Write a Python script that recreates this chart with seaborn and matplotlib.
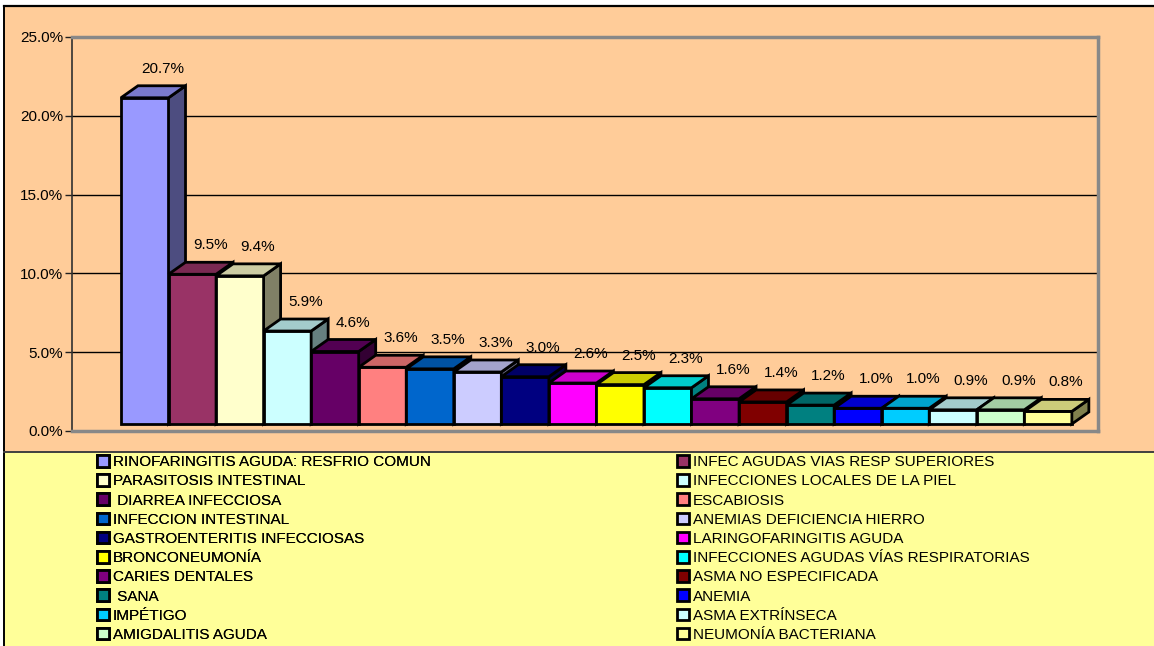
"""Recreation of a 3D-style column chart of diagnoses (percent of consultations)."""

import numpy as np
import pandas as pd

import seaborn as sns
import matplotlib.pyplot as plt
from matplotlib.patches import Polygon, Rectangle
from matplotlib.lines import Line2D
from matplotlib.transforms import ScaledTranslation
from matplotlib.colors import to_rgb

###################################################################################################
###################################################################################################

diagnoses = ['RINOFARINGITIS AGUDA: RESFRIO COMUN', 'INFEC AGUDAS VIAS RESP SUPERIORES',
             'PARASITOSIS INTESTINAL', 'INFECCIONES LOCALES DE LA PIEL',
             ' DIARREA INFECCIOSA', 'ESCABIOSIS',
             'INFECCION INTESTINAL', 'ANEMIAS DEFICIENCIA HIERRO',
             'GASTROENTERITIS INFECCIOSAS', 'LARINGOFARINGITIS AGUDA',
             'BRONCONEUMONÍA', 'INFECCIONES AGUDAS VÍAS RESPIRATORIAS',
             'CARIES DENTALES', 'ASMA NO ESPECIFICADA',
             ' SANA', 'ANEMIA',
             'IMPÉTIGO', 'ASMA EXTRÍNSECA',
             'AMIGDALITIS AGUDA', 'NEUMONÍA BACTERIANA']

percent = [20.7, 9.5, 9.4, 5.9, 4.6, 3.6, 3.5, 3.3, 3.0, 2.6,
           2.5, 2.3, 1.6, 1.4, 1.2, 1.0, 1.0, 0.9, 0.9, 0.8]

colors = ['#9999FF', '#993366', '#FFFFCC', '#CCFFFF', '#660066', '#FF8080', '#0066CC', '#CCCCFF',
          '#000080', '#FF00FF', '#FFFF00', '#00FFFF', '#800080', '#800000', '#008080', '#0000FF',
          '#00CCFF', '#CCFFFF', '#CCFFCC', '#FFFF99']

y_ticks = [0, 5, 10, 15, 20, 25]

###################################################################################################
###################################################################################################

plt.rcParams['font.family'] = ['Liberation Sans', 'DejaVu Sans']

W, H = 1154, 646
fig = plt.figure(figsize=[W / 100, H / 100], dpi=100, facecolor='white')

# Backgrounds: peach chart area, yellow legend area (kept behind the axes)
fig.patches.append(Rectangle((4 / W, 194 / H), 1, 446 / H, transform=fig.transFigure,
                             facecolor='#FFCC99', edgecolor='none', zorder=-2))
fig.patches.append(Rectangle((4 / W, 0), 1, 194 / H, transform=fig.transFigure,
                             facecolor='#FFFF99', edgecolor='none', zorder=-2))
fig.lines.append(Line2D([4 / W, 1], [640 / H, 640 / H], transform=fig.transFigure,
                        color='black', lw=1.6, zorder=-1))
fig.lines.append(Line2D([4 / W, 4 / W], [0, 640 / H], transform=fig.transFigure,
                        color='black', lw=1.4, zorder=-1))
fig.lines.append(Line2D([4 / W, 1], [194 / H, 194 / H], transform=fig.transFigure,
                        color='#404040', lw=1.4, zorder=-1))

ax = fig.add_axes([72 / W, (H - 431) / H, (1098 - 72) / W, (431 - 37) / H])
ax.set_facecolor('none')

df = pd.DataFrame({'diagnosis': diagnoses, 'percent': percent})
sns.barplot(data=df, x='diagnosis', y='percent', hue='diagnosis', palette=colors,
            width=1, edgecolor='black', linewidth=2, saturation=1, legend=False, ax=ax)

ax.set_xlim(-1.53, 20.05)
ax.set_ylim(0, 25)
ax.set_xticks([])
ax.set_yticks(y_ticks)
ax.set_yticklabels(['{:.1f}%'.format(t) for t in y_ticks], fontsize=11)
ax.tick_params(axis='y', length=5, width=1, color='#202020', pad=1.5)
ax.set_xlabel('')
ax.set_ylabel('')

# Gridlines on the back wall
ax.yaxis.grid(True, color='black', lw=1)
ax.set_axisbelow(True)

# Frame
ax.spines['left'].set_color('#303030')
ax.spines['left'].set_linewidth(1.2)
for side in ['top', 'right', 'bottom']:
    ax.spines[side].set_color('#888888')
    ax.spines[side].set_linewidth(2.5)

# 3D look: top and side faces, all shifted slightly up from the floor
shift = ax.transData + ScaledTranslation(0, 7 / 100, fig.dpi_scale_trans)
px_x = ax.transData.transform((1, 0))[0] - ax.transData.transform((0, 0))[0]
px_y = ax.transData.transform((0, 1))[1] - ax.transData.transform((0, 0))[1]
ddx, ddy = 17 / px_x, 12 / px_y

bars = [bar for cont in ax.containers for bar in cont]
for ind, bar in enumerate(bars):
    x0, x1 = bar.get_x(), bar.get_x() + bar.get_width()
    h = bar.get_height()
    base = np.array(to_rgb(bar.get_facecolor()))
    zo = 3 + ind * 0.01
    bar.set_transform(shift)
    bar.set_zorder(zo)
    top = Polygon([(x0, h), (x1, h), (x1 + ddx, h + ddy), (x0 + ddx, h + ddy)],
                  closed=True, facecolor=base * 0.8, edgecolor='black', lw=2,
                  transform=shift, zorder=zo + 0.005)
    side = Polygon([(x1, 0), (x1 + ddx, ddy), (x1 + ddx, h + ddy), (x1, h)],
                   closed=True, facecolor=base * 0.5, edgecolor='black', lw=2,
                   transform=shift, zorder=zo + 0.004)
    ax.add_patch(side)
    ax.add_patch(top)
    ax.annotate('{:.1f}%'.format(h), xy=((x0 + x1) / 2, h), xytext=(18, 36),
                textcoords='offset pixels', ha='center', va='center', fontsize=11,
                zorder=10)

# Legend: two columns, filled row by row
handles = [Rectangle((0, 0), 1, 1, facecolor=col, edgecolor='black', lw=2) for col in colors]
leg_kw = dict(loc='upper left', frameon=False, fontsize=11, borderpad=0, borderaxespad=0,
              handlelength=0.8, handleheight=0.8, handletextpad=0.25, labelspacing=0.33)
left_leg = fig.legend(handles[0::2], diagnoses[0::2], bbox_to_anchor=(97 / W, (H - 455) / H),
                      **leg_kw)
fig.add_artist(left_leg)
fig.legend(handles[1::2], diagnoses[1::2], bbox_to_anchor=(677 / W, (H - 455) / H), **leg_kw)

plt.savefig('out.png', dpi=100)
